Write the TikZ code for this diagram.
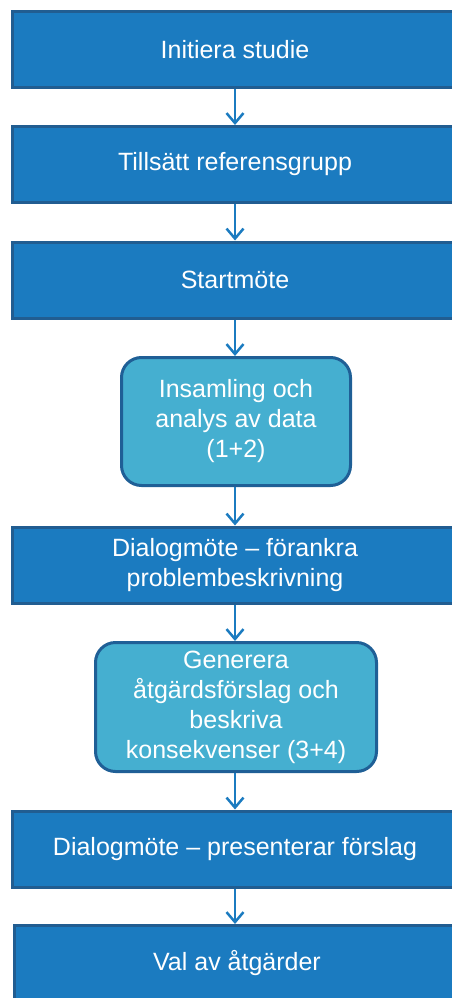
\documentclass[tikz,border=0pt]{standalone}
\usepackage{fontspec}
\setmainfont{Liberation Sans}
\usetikzlibrary{arrows.meta}
\definecolor{boxblue}{HTML}{1B7BC0}
\definecolor{boxedge}{HTML}{215D91}
\definecolor{roundfill}{HTML}{45AFD0}
\definecolor{roundedge}{HTML}{1F5F96}
\tikzset{
  stepbox/.style={draw=boxedge, line width=3pt, fill=boxblue, text=white,
    minimum width=445pt, minimum height=76pt, inner sep=0pt, align=center,
    font=\fontsize{25}{30}\selectfont},
  roundbox/.style={draw=roundedge, line width=3pt, fill=roundfill, text=white,
    rounded corners=20pt, inner sep=0pt, align=center,
    font=\fontsize{25}{30}\selectfont},
  arr/.style={draw=boxblue, line width=2.5pt, -{Straight Barb[length=10pt,width=17pt,line width=2.5pt]}}
}
\begin{document}
\begin{tikzpicture}[x=1pt,y=-1pt]
\useasboundingbox (0,0) rectangle (452,998);
\clip (0,0) rectangle (452,998);
\node[stepbox] (b1) at (235,49.5) {Initiera studie};
\node[stepbox] (b2) at (235,164.5) {Tillsätt referensgrupp};
\node[stepbox] (b3) at (235,280) {Startmöte};
\node[roundbox, minimum width=229pt, minimum height=128pt] (b4) at (236,421.5) {Insamling och\\analys av data\\(1+2)};
\node[stepbox] (b5) at (235,565) {Dialogmöte – förankra\\problembeskrivning};
\node[roundbox, minimum width=281pt, minimum height=129pt] (b6) at (236,707) {Generera\\åtgärdsförslag och\\beskriva\\konsekvenser (3+4)};
\node[stepbox] (b7) at (235,849) {Dialogmöte – presenterar förslag};
\node[stepbox] (b8) at (237,963.5) {Val av åtgärder};
\draw[arr] (b1.south) -- (b1.south |- b2.north);
\draw[arr] (b2.south) -- (b2.south |- b3.north);
\draw[arr] (b3.south) -- (b3.south |- b4.north);
\draw[arr] (b4.south -| b3.south) -- (b3.south |- b5.north);
\draw[arr] (b5.south) -- (b5.south |- b6.north);
\draw[arr] (b6.south -| b5.south) -- (b5.south |- b7.north);
\draw[arr] (b7.south) -- (b7.south |- b8.north);
\end{tikzpicture}
\end{document}
